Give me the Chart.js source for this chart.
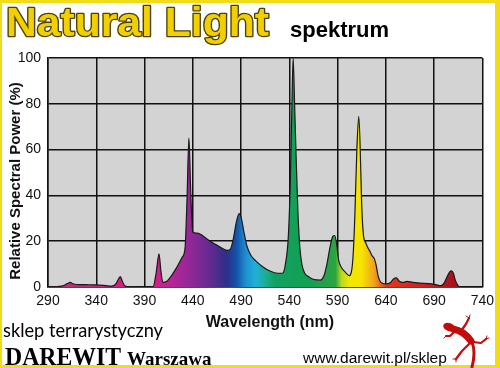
<!DOCTYPE html>
<html>
<head>
<meta charset="utf-8">
<script src="https://cdn.jsdelivr.net/npm/chart.js@4.4.1/dist/chart.umd.min.js"></script>
<style>
  html, body { margin: 0; padding: 0; background: #fff; }
  #wrap { width: 500px; height: 368px; position: relative; }
</style>
</head>
<body>
<div id="wrap"><canvas id="chart"></canvas></div>
<script>
// values
const wavelengths = [
  290, 300, 306, 310, 313, 316, 320, 330, 340, 350, 356, 360, 363, 365, 367, 370, 375, 390,
  399, 402, 405, 407, 409, 413, 418, 424, 429, 432, 434, 436, 438, 440, 444, 448, 453, 458,
  464, 470, 476, 479, 482, 485, 488, 490, 493, 496, 500, 505, 512, 520, 528, 533, 536, 539,
  541, 542.5, 544, 545.5, 547, 549, 551, 553, 556, 560, 566, 572, 576, 579, 582, 585, 587,
  589, 591, 594, 598, 602, 604, 606, 608, 610, 612, 613.5, 615, 617, 619, 621, 623, 626, 628,
  630, 632, 635, 640, 645, 648, 651, 654, 658, 662, 668, 675, 685, 692, 697, 700, 703, 706,
  708, 710, 712, 715, 718, 740
];
const power = [
  0, 0.2, 0.6, 1.5, 2.0, 1.4, 1.1, 1.0, 0.9, 0.6, 0.4, 1.2, 3.5, 4.5, 2.5, 0.4, 0.1, 0,
  0.2, 6, 14.5, 7, 2, 2.5, 5, 9, 13, 17, 38, 65, 40, 24, 23.5, 23, 21.5, 20,
  18.5, 17, 16, 16.5, 21, 28, 32, 30.5, 24, 18, 14, 11.5, 9, 7, 6, 6, 10, 22,
  45, 75, 100, 80, 58, 32, 17, 10, 6, 4.5, 3.2, 3, 5, 10, 17, 22, 22.5,
  19, 12, 8.5, 6.5, 5, 6, 13, 32, 60, 74.5, 60, 36, 22, 19.5, 17.5, 16, 13.5, 12.5,
  9.5, 5, 2, 1.3, 2, 3.5, 4, 2.5, 2, 2.5, 2, 1.7, 1.5, 1, 0.6, 1.5, 4, 6.5,
  7, 6, 3, 0.5, 0, 0
];
const wavelengthTicks = [290, 340, 390, 440, 490, 540, 590, 640, 690, 740];
const powerTicks = [0, 20, 40, 60, 80, 100];

const chartTitle = 'Natural Light';
const chartSubtitle = 'spektrum';
const xTitle = 'Wavelength (nm)';
const yTitle = 'Relative Spectral Power (%)';
const shopLine = 'sklep terrarystyczny';
const shopName = 'DAREWIT';
const shopCity = 'Warszawa';
const shopUrl = 'www.darewit.pl/sklep';

// fill colour along the wavelength axis
const spectrumStops = [
  [290, '#b8306e'], [360, '#cc2378'], [400, '#d21f88'], [420, '#b42596'],
  [440, '#8c2896'], [460, '#5e2a90'], [475, '#2e2e88'], [485, '#1352a8'],
  [495, '#1f8fd0'], [505, '#1fb0da'], [515, '#1cae96'], [525, '#12a062'],
  [560, '#12a052'], [588, '#2ea442'], [594, '#b8d81c'], [602, '#f2e600'],
  [615, '#f6e400'], [628, '#f0a21e'], [640, '#e2381e'], [680, '#d02020'],
  [710, '#a8121a'], [740, '#901010']
];

Chart.defaults.font.family = '"Liberation Sans", Arial, sans-serif';

const plotBackground = {
  id: 'plotBackground',
  beforeDraw(chart) {
    const { ctx, chartArea: a } = chart;
    ctx.save();
    ctx.fillStyle = '#d3d3d3';
    ctx.fillRect(a.left, a.top, a.right - a.left, a.bottom - a.top);
    ctx.restore();
  }
};

function drawLizard(ctx) {
  ctx.save();
  ctx.fillStyle = '#c40c0c';
  ctx.strokeStyle = '#c40c0c';
  ctx.lineCap = 'round';
  ctx.lineJoin = 'round';
  // head
  ctx.beginPath();
  ctx.ellipse(449, 327, 6, 4, 0.35, 0, Math.PI * 2);
  ctx.fill();
  // body
  ctx.lineWidth = 7;
  ctx.beginPath();
  ctx.moveTo(453, 329);
  ctx.quadraticCurveTo(464, 331, 471, 341);
  ctx.stroke();
  // tail
  ctx.lineWidth = 3;
  ctx.beginPath();
  ctx.moveTo(472, 342);
  ctx.quadraticCurveTo(476, 352, 472, 367);
  ctx.stroke();
  // legs
  ctx.lineWidth = 2.2;
  const legs = [
    [[461, 331], [466, 324], [469, 318]],
    [[455, 331], [450, 336], [446, 336]],
    [[473, 342], [481, 343], [486, 339]],
    [[469, 344], [462, 351], [456, 359]]
  ];
  legs.forEach(p => {
    ctx.beginPath();
    ctx.moveTo(p[0][0], p[0][1]);
    ctx.lineTo(p[1][0], p[1][1]);
    ctx.lineTo(p[2][0], p[2][1]);
    ctx.stroke();
  });
  ctx.lineWidth = 1;
  [[469, 318, -3, -2], [469, 318, 1, -3], [486, 339, 3, -1], [486, 339, 1, -3], [456, 359, -3, 0], [456, 359, 0, 3], [446, 336, -2, 2]].forEach(t => {
    ctx.beginPath();
    ctx.moveTo(t[0], t[1]);
    ctx.lineTo(t[0] + t[2], t[1] + t[3]);
    ctx.stroke();
  });
  ctx.restore();
}

const decorations = {
  id: 'decorations',
  afterDraw(chart) {
    const ctx = chart.ctx;
    ctx.save();

    // yellow frame
    ctx.fillStyle = '#f2dc18';
    ctx.fillRect(0, 0, 500, 3);
    ctx.fillRect(0, 0, 2, 368);
    ctx.fillRect(495, 0, 5, 368);
    ctx.fillRect(0, 365, 500, 3);

    // title
    ctx.font = 'bold 40px "Liberation Sans", Arial, sans-serif';
    ctx.textBaseline = 'alphabetic';
    ctx.textAlign = 'left';
    const w = ctx.measureText(chartTitle).width;
    ctx.save();
    ctx.translate(6, 36);
    ctx.scale(263 / w, 1);
    ctx.lineJoin = 'round';
    ctx.lineWidth = 2.6;
    ctx.strokeStyle = '#4e4200';
    ctx.strokeText(chartTitle, 0, 0);
    ctx.fillStyle = '#f2d000';
    ctx.fillText(chartTitle, 0, 0);
    ctx.restore();

    ctx.fillStyle = '#000';
    ctx.font = 'bold 22px "Liberation Sans", Arial, sans-serif';
    ctx.fillText(chartSubtitle, 290, 37);

    // axis titles
    ctx.fillStyle = '#111';
    ctx.font = 'bold 16px "Liberation Sans", Arial, sans-serif';
    ctx.textAlign = 'center';
    ctx.fillText(xTitle, 270, 327);

    ctx.save();
    ctx.translate(20, 181);
    ctx.rotate(-Math.PI / 2);
    ctx.font = 'bold 15px "Liberation Sans", Arial, sans-serif';
    ctx.fillText(yTitle, 0, 0, 198);
    ctx.restore();

    // shop footer
    ctx.textAlign = 'left';
    ctx.fillStyle = '#000';
    ctx.font = '19px Lato, "DejaVu Sans", sans-serif';
    ctx.fillText(shopLine, 3, 337, 160);
    ctx.font = 'bold 25px "Liberation Serif", "Times New Roman", serif';
    ctx.fillText(shopName, 5, 365, 116);
    ctx.font = 'bold 19px "Liberation Serif", "Times New Roman", serif';
    ctx.fillText(shopCity, 127, 365, 87);
    ctx.font = '15.5px "Liberation Sans", Arial, sans-serif';
    ctx.fillText(shopUrl, 303, 363, 146);

    drawLizard(ctx);
    ctx.restore();
  }
};

const ctx = document.getElementById('chart').getContext('2d');
new Chart(ctx, {
  type: 'line',
  data: {
    datasets: [{
      data: wavelengths.map((w, i) => ({ x: w, y: power[i] })),
      fill: 'origin',
      borderColor: '#1a1a1a',
      borderWidth: 1.2,
      pointRadius: 0,
      cubicInterpolationMode: 'monotone',
      backgroundColor(context) {
        const chart = context.chart;
        if (!chart.chartArea) return '#c02080';
        const xs = chart.scales.x;
        const g = chart.ctx.createLinearGradient(xs.getPixelForValue(290), 0, xs.getPixelForValue(740), 0);
        spectrumStops.forEach(([nm, c]) => g.addColorStop((nm - 290) / 450, c));
        return g;
      }
    }]
  },
  options: {
    responsive: true,
    maintainAspectRatio: false,
    animation: false,
    layout: { padding: { top: 58, right: 17, bottom: 0, left: 0 } },
    plugins: {
      legend: { display: false },
      tooltip: { enabled: false }
    },
    scales: {
      x: {
        type: 'linear',
        min: 290,
        max: 740,
        z: 1,
        afterBuildTicks: s => { s.ticks = wavelengthTicks.map(v => ({ value: v })); },
        afterFit: s => { s.height = 81; },
        grid: { color: '#111', lineWidth: 1.5, drawTicks: false },
        border: { color: '#111', width: 1.5 },
        ticks: { color: '#111', font: { size: 14 }, padding: 6, maxRotation: 0, autoSkip: false }
      },
      y: {
        min: 0,
        max: 100,
        z: 1,
        afterBuildTicks: s => { s.ticks = powerTicks.map(v => ({ value: v })); },
        afterFit: s => { s.width = 48; },
        grid: { color: '#111', lineWidth: 1.5, drawTicks: false },
        border: { color: '#111', width: 1.5 },
        ticks: { color: '#111', font: { size: 14 }, padding: 7 }
      }
    }
  },
  plugins: [plotBackground, decorations]
});
</script>
</body>
</html>
